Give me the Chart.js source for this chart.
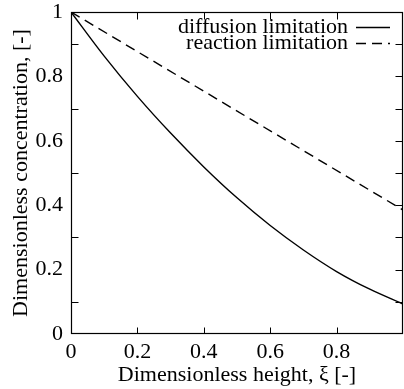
<!DOCTYPE html>
<html><head><meta charset="utf-8">
<script src="https://cdn.jsdelivr.net/npm/chart.js@4"></script>
<style>html,body{margin:0;padding:0;background:#fff;} canvas{display:block;}</style>
</head><body>
<canvas id="c" width="404" height="389"></canvas>
<script>
const xValues = [0, 0.1, 0.2, 0.3, 0.4, 0.5, 0.6, 0.7, 0.8, 0.9, 1.0];
const diffusionLimitation = [1, 0.863, 0.738, 0.624, 0.519, 0.423, 0.337, 0.261, 0.194, 0.139, 0.093];
const reactionX = [0, 1];
const reactionLimitation = [1, 0.385];
const seriesLabels = ['diffusion limitation', 'reaction limitation'];
const xTickValues = [0, 0.2, 0.4, 0.6, 0.8];
const yTickValues = [0, 0.2, 0.4, 0.6, 0.8, 1];
const yLeftMarks = [0.1, 0.3, 0.5, 0.7, 0.9];
const yRightMarks = [0.1, 0.2, 0.3, 0.4, 0.5, 0.6, 0.7, 0.8, 0.9];
const xMarks = [0.2, 0.4, 0.6, 0.8];
const xTitle = 'Dimensionless height, \u03BE [-]';
const yTitle = 'Dimensionless concentration, [-]';

const FONT = "'Liberation Serif', 'Times New Roman', serif";
const FS = 22;

const framePlugin = {
  id: 'frame',
  afterDraw(chart) {
    const ctx = chart.ctx, a = chart.chartArea;
    const xs = chart.scales.x, ys = chart.scales.y;
    ctx.save();
    ctx.strokeStyle = '#000';
    ctx.lineWidth = 1.2;
    const L = Math.round(a.left) + 0.5, R = Math.round(a.right) - 0.5;
    const T = Math.round(a.top) + 0.5, B = Math.round(a.bottom) - 0.5;
    ctx.strokeRect(L, T, R - L, B - T);
    ctx.lineWidth = 1;
    ctx.beginPath();
    const tl = 7;
    yLeftMarks.forEach(v => { const y = Math.round(ys.getPixelForValue(v)) + 0.5; ctx.moveTo(L, y); ctx.lineTo(L + tl, y); });
    yRightMarks.forEach(v => { const y = Math.round(ys.getPixelForValue(v)) + 0.5; ctx.moveTo(R, y); ctx.lineTo(R - tl, y); });
    xMarks.forEach(v => { const x = Math.round(xs.getPixelForValue(v)) + 0.5; ctx.moveTo(x, B); ctx.lineTo(x, B - 6); ctx.moveTo(x, T); ctx.lineTo(x, T + tl); });
    ctx.stroke();

    // legend
    ctx.font = FS + 'px ' + FONT;
    ctx.fillStyle = '#000';
    ctx.textAlign = 'right';
    ctx.textBaseline = 'middle';
    const rows = [a.top + 15, a.top + 31];
    const textRight = a.right - 55, s0 = a.right - 47, s1 = a.right - 13;
    chart.data.datasets.forEach((ds, i) => {
      ctx.fillText(ds.label, textRight, rows[i]);
      ctx.beginPath();
      ctx.lineWidth = 1.5;
      ctx.setLineDash(ds.borderDash || []);
      ctx.moveTo(s0, rows[i] + 0.5);
      ctx.lineTo(s1, rows[i] + 0.5);
      ctx.stroke();
    });
    ctx.restore();
  }
};

new Chart(document.getElementById('c'), {
  type: 'line',
  data: {
    datasets: [
      { label: seriesLabels[0], data: xValues.map((x, i) => ({x, y: diffusionLimitation[i]})),
        borderColor: '#000', borderWidth: 1.4, pointRadius: 0, cubicInterpolationMode: 'monotone', fill: false },
      { label: seriesLabels[1], data: reactionX.map((x, i) => ({x, y: reactionLimitation[i]})),
        borderColor: '#000', borderWidth: 1.4, pointRadius: 0, borderDash: [10, 6], fill: false }
    ]
  },
  options: {
    responsive: false, animation: false, devicePixelRatio: 1,
    layout: { padding: { top: 12, right: 1, left: 0, bottom: 0 } },
    plugins: { legend: { display: false }, tooltip: { enabled: false } },
    scales: {
      x: {
        type: 'linear', min: 0, max: 1,
        grid: { display: false, drawTicks: false }, border: { display: false },
        afterBuildTicks: s => { s.ticks = xTickValues.map(v => ({ value: v })); },
        afterFit: s => { s.height = 55; s.paddingLeft = 0; s.paddingRight = 0; },
        ticks: { padding: 5, color: '#000', maxRotation: 0, autoSkip: false, font: { family: FONT, size: FS }, callback: v => String(v) },
        title: { display: true, text: xTitle, color: '#000', font: { family: FONT, size: FS }, padding: { top: 0, bottom: 1 } }
      },
      y: {
        type: 'linear', min: 0, max: 1,
        grid: { display: false, drawTicks: false }, border: { display: false },
        afterBuildTicks: s => { s.ticks = yTickValues.map(v => ({ value: v })); },
        afterFit: s => { s.width = 71; s.paddingTop = 0; s.paddingBottom = 0; },
        ticks: { padding: 8, color: '#000', autoSkip: false, font: { family: FONT, size: FS }, callback: v => String(v) },
        title: { display: true, text: yTitle, color: '#000', font: { family: FONT, size: FS }, padding: { top: 8, bottom: 0 } }
      }
    }
  },
  plugins: [framePlugin]
});
</script>
</body></html>
